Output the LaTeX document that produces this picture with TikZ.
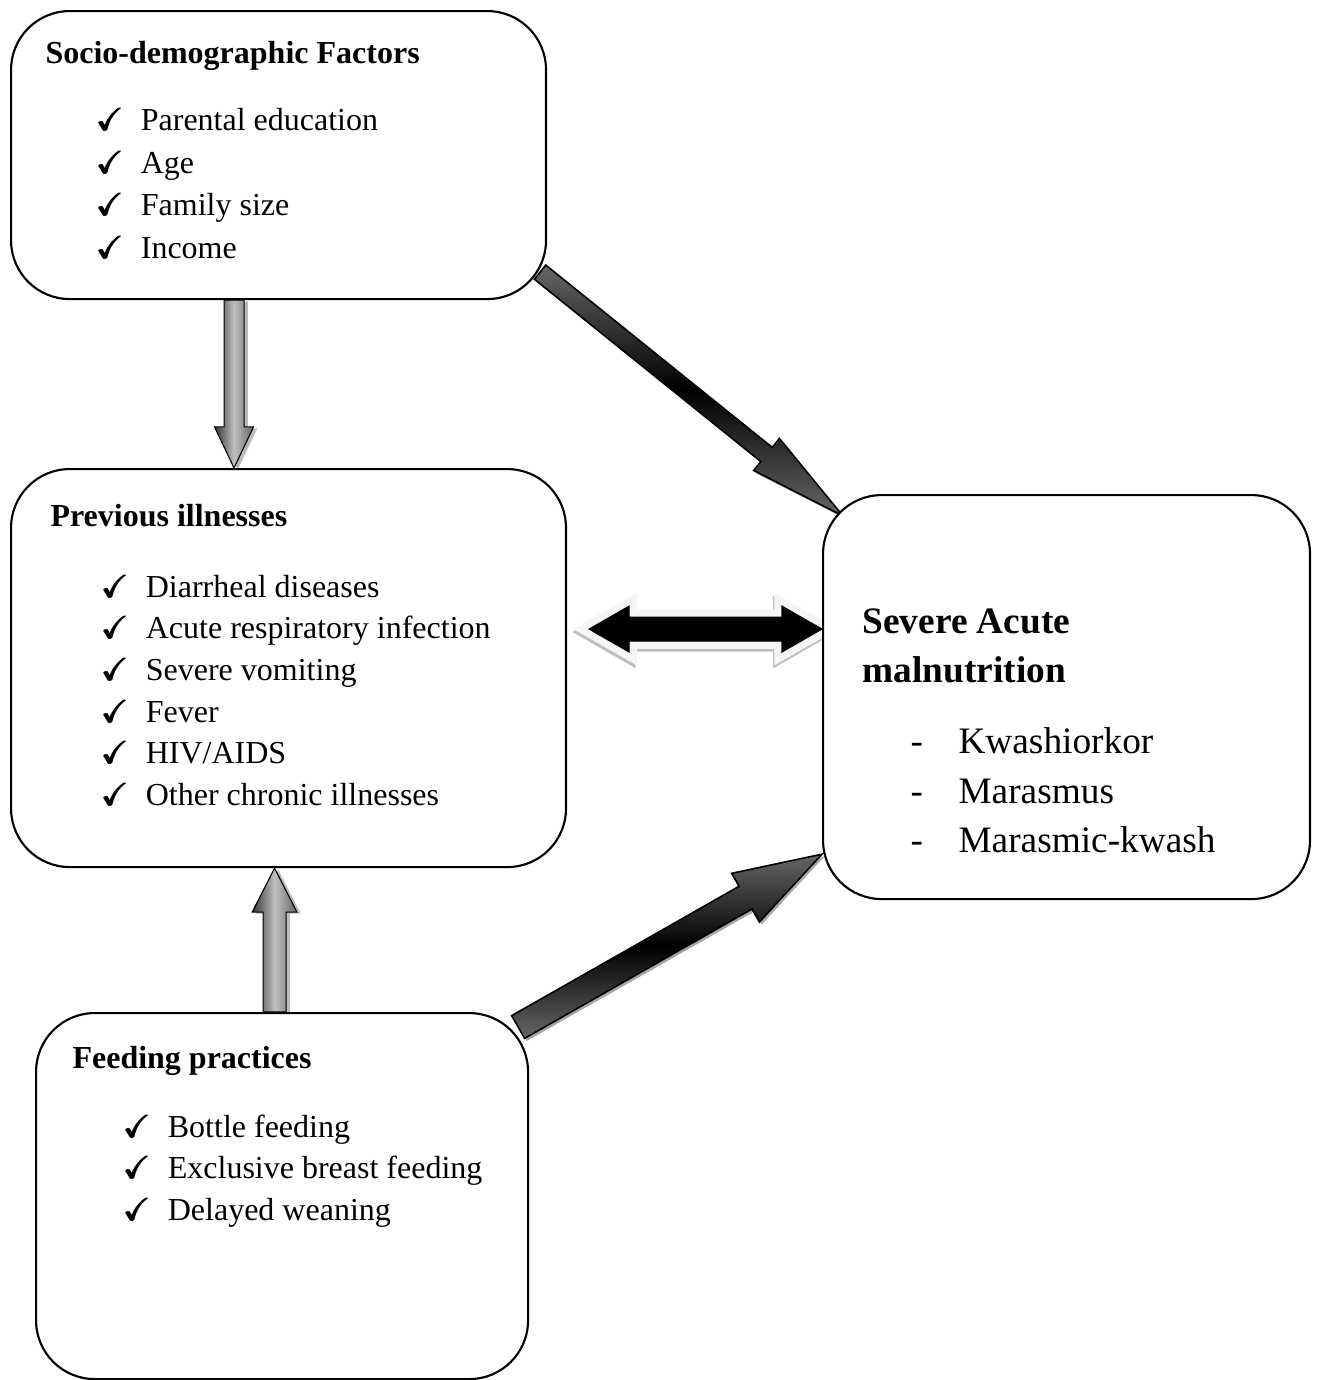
\documentclass[tikz,border=0pt]{standalone}
\usepackage{amssymb}
\usepackage{fontspec}
\setmainfont{Liberation Serif}
\usetikzlibrary{calc,shadows}

\pgfdeclarelayer{back}
\pgfsetlayers{back,main}

\newcommand{\chkmark}{\makebox[17pt][l]{\rlap{$\checkmark$}\kern0.35pt\rlap{$\checkmark$}\kern0.35pt$\checkmark$}}
\newcommand{\dashmark}{\makebox[18pt][l]{-}}

% block arrow: style, tail, tip, half shaft, half head, head length
\newcommand{\fatarrow}[6]{%
  \draw[#1] ($(#2)!#4!90:(#3)$) -- ($(#3)!#6!(#2)!#4!-90:(#2)$) -- ($(#3)!#6!(#2)!#5!-90:(#2)$)
    -- (#3) -- ($(#3)!#6!(#2)!#5!90:(#2)$) -- ($(#3)!#6!(#2)!#4!90:(#2)$) -- ($(#2)!#4!-90:(#3)$) -- cycle;}
% double block arrow: style, left tip, right tip, half shaft, half head, head length
\newcommand{\twinarrow}[6]{%
  \draw[#1] (#2) -- ($(#2)!#6!(#3)!#5!90:(#3)$) -- ($(#2)!#6!(#3)!#4!90:(#3)$)
    -- ($(#3)!#6!(#2)!#4!-90:(#2)$) -- ($(#3)!#6!(#2)!#5!-90:(#2)$) -- (#3)
    -- ($(#3)!#6!(#2)!#5!90:(#2)$) -- ($(#3)!#6!(#2)!#4!90:(#2)$)
    -- ($(#2)!#6!(#3)!#4!-90:(#3)$) -- ($(#2)!#6!(#3)!#5!-90:(#3)$) -- cycle;}

\tikzset{
  factor/.style={draw=black, line width=0.8pt, fill=white, rounded corners=22pt, inner sep=0pt, anchor=north west},
  head/.style={font=\fontsize{12pt}{14pt}\selectfont\bfseries, anchor=base west, inner sep=0pt},
  bighead/.style={font=\fontsize{14pt}{17pt}\selectfont\bfseries, anchor=base west, inner sep=0pt},
  item/.style={font=\fontsize{12pt}{14pt}\selectfont, anchor=base west, inner sep=0pt},
  bigitem/.style={font=\fontsize{14pt}{17pt}\selectfont, anchor=base west, inner sep=0pt},
  uparrow/.style={left color=black!80, right color=black!60, middle color=black!25,
    drop shadow={shadow xshift=1.4pt, shadow yshift=-0.6pt, fill=black!45, opacity=0.6}},
  slantarrow/.style={draw=black, line width=0.6pt, top color=black!60, bottom color=black!60, middle color=black,
    drop shadow={shadow xshift=0.8pt, shadow yshift=-1pt, fill=black!50, opacity=0.7}},
  twinfill/.style={fill=black,
    preaction={draw=gray!50, line width=5.8pt, transform canvas={shift={(-0.4pt,-1.1pt)}}},
    preaction={draw=gray!8, line width=5.8pt}}
}

\begin{document}
\begin{tikzpicture}[x=0.375pt, y=-0.375pt]
  \useasboundingbox (0,0) rectangle (1316,1380);

  % boxes
  \node[factor, minimum width=200.6pt, minimum height=108pt] (socio) at (10,10) {};
  \node[factor, minimum width=208.1pt, minimum height=149.25pt] (prev) at (10,468) {};
  \node[factor, minimum width=182.6pt, minimum height=151.5pt] (sam) at (822,494) {};
  \node[factor, minimum width=184.5pt, minimum height=137.25pt] (feed) at (35,1012) {};

  % socio-demographic
  \node[head] (sociot) at (45,63) {Socio-demographic Factors};
  \node[item] (socio1) at (95,130) {\chkmark Parental education};
  \node[item] (socio2) at (95,173) {\chkmark Age};
  \node[item] (socio3) at (95,215) {\chkmark Family size};
  \node[item] (socio4) at (95,258) {\chkmark Income};

  % previous illnesses
  \node[head] (prevt) at (50,526) {Previous illnesses};
  \node[item] (prev1) at (100,597) {\chkmark Diarrheal diseases};
  \node[item] (prev2) at (100,638) {\chkmark Acute respiratory infection};
  \node[item] (prev3) at (100,680) {\chkmark Severe vomiting};
  \node[item] (prev4) at (100,722) {\chkmark Fever};
  \node[item] (prev5) at (100,763) {\chkmark HIV/AIDS};
  \node[item] (prev6) at (100,805) {\chkmark Other chronic illnesses};

  % feeding
  \node[head] (feedt) at (72,1068) {Feeding practices};
  \node[item] (feed1) at (122,1137) {\chkmark Bottle feeding};
  \node[item] (feed2) at (122,1178) {\chkmark Exclusive breast feeding};
  \node[item] (feed3) at (122,1220) {\chkmark Delayed weaning};

  % outcome
  \node[bighead] (samt1) at (862,633) {Severe Acute};
  \node[bighead] (samt2) at (862,682) {malnutrition};
  \node[bigitem] (sam1) at (910,753) {\dashmark Kwashiorkor};
  \node[bigitem] (sam2) at (910,803) {\dashmark Marasmus};
  \node[bigitem] (sam3) at (910,852) {\dashmark Marasmic-kwash};

  % arrow ends
  \coordinate (dtop) at ($(socio.south)+(-44.5,0)$);
  \coordinate (dbot) at (dtop |- prev.north);
  \coordinate (ubot) at ($(feed.north)+(-7.5,0)$);
  \coordinate (utop) at (ubot |- prev.south);
  \coordinate (a1s) at ($(socio.south east)+(-7,-28)$);
  \coordinate (a1t) at ($(sam.north west)+(21,22)$);
  \coordinate (a2s) at ($(feed.north east)+(-11,15)$);
  \coordinate (a2t) at ($(sam.south west)+(0,-46)$);
  \coordinate (dl) at ($(prev.east)+(22,-39)$);
  \coordinate (dr) at (sam.west |- dl);

  \begin{pgfonlayer}{back}
    \fatarrow{uparrow}{dtop}{dbot}{3.75pt}{7.3pt}{15.4pt}
    \fatarrow{uparrow}{ubot}{utop}{4.3pt}{8.4pt}{16.5pt}
    \fatarrow{slantarrow}{a1s}{a1t}{3.4pt}{7.7pt}{36.8pt}
    \fatarrow{slantarrow}{a2s}{a2t}{4.9pt}{10.5pt}{33pt}
    \twinarrow{twinfill}{dl}{dr}{4.5pt}{8.6pt}{15pt}
  \end{pgfonlayer}
\end{tikzpicture}
\end{document}
